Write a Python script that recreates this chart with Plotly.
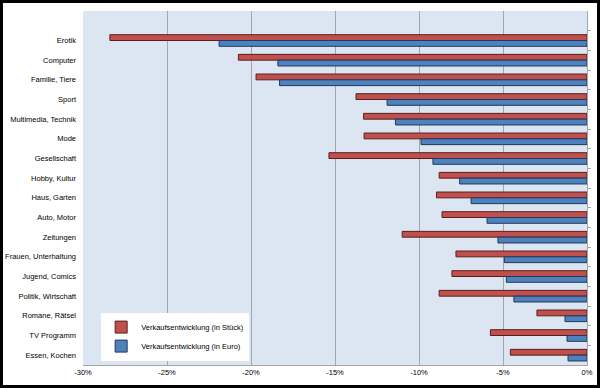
import plotly.graph_objects as go

categories = ["Erotik", "Computer", "Familie, Tiere", "Sport", "Multimedia, Technik", "Mode",
              "Gesellschaft", "Hobby, Kultur", "Haus, Garten", "Auto, Motor", "Zeitungen",
              "Frauen, Unterhaltung", "Jugend, Comics", "Politik, Wirtschaft", "Romane, Rätsel",
              "TV Programm", "Essen, Kochen"]
stueck = [-28.4, -20.75, -19.7, -13.75, -13.3, -13.27, -15.36, -8.8, -8.96, -8.63, -11.0,
          -7.8, -8.04, -8.8, -2.98, -5.75, -4.56]
euro = [-21.9, -18.4, -18.3, -11.9, -11.4, -9.88, -9.17, -7.58, -6.9, -5.95, -5.3,
        -4.92, -4.8, -4.35, -1.31, -1.19, -1.13]
x_ticks = [-30, -25, -20, -15, -10, -5, 0]
x_tick_labels = ["-30%", "-25%", "-20%", "-15%", "-10%", "-5%", "0%"]

n = len(categories)
y_range = [n - 0.5, -1.5]  # one empty slot above the first category

fig = go.Figure()
fig.add_trace(go.Bar(y=categories, x=stueck, orientation="h", name="Verkaufsentwicklung (in Stück)",
                     marker=dict(color="#c0504d", line=dict(color="#5a1f1d", width=1))))
fig.add_trace(go.Bar(y=categories, x=euro, orientation="h", name="Verkaufsentwicklung (in Euro)",
                     marker=dict(color="#4f81bd", line=dict(color="#1f3a5c", width=1))))
# invisible helper trace so the right-hand category axis (tick marks at 0) has categories
fig.add_trace(go.Scatter(y=categories, x=[0] * n, mode="none", yaxis="y2",
                         showlegend=False, hoverinfo="skip"))

fig.update_layout(
    width=600, height=388,
    margin=dict(l=83, r=13, t=11, b=23, autoexpand=False),
    paper_bgcolor="white", plot_bgcolor="#dce6f2",
    barmode="group", bargap=0.41, bargroupgap=0,
    font=dict(family="Liberation Sans, Arial, sans-serif", size=7.5, color="#000"),
    showlegend=True,
    legend=dict(x=0.036, y=0.148, xanchor="left", yanchor="top", bgcolor="white",
                font=dict(size=7.5), itemwidth=30, tracegroupgap=0, borderwidth=0),
    xaxis=dict(range=[-30, 0], tickvals=x_ticks, ticktext=x_tick_labels, showgrid=True,
               gridcolor="#a6a6a6", gridwidth=1, zeroline=False,
               showline=True, linecolor="#a6a6a6", ticks="", automargin=False),
    yaxis=dict(range=y_range, ticks="", showgrid=False, ticklabelstandoff=6,
               automargin=False, type="category"),
    yaxis2=dict(range=y_range, overlaying="y", side="right", anchor="x", type="category",
                showticklabels=False, ticks="outside", ticklen=3, tickcolor="#a6a6a6",
                tickson="boundaries", showline=True, linecolor="#a6a6a6", showgrid=False,
                automargin=False),
    shapes=[dict(type="rect", xref="paper", yref="paper",
                 x0=-83/504 + 1.5/504, x1=1 + 13/504 - 1.5/504,
                 y0=-23/354 + 1.5/354, y1=1 + 11/354 - 1.5/354,
                 line=dict(color="black", width=3), layer="above")],
)

fig.write_html("out.html", post_script="document.body.style.margin='0';",
               config={"displayModeBar": False})
